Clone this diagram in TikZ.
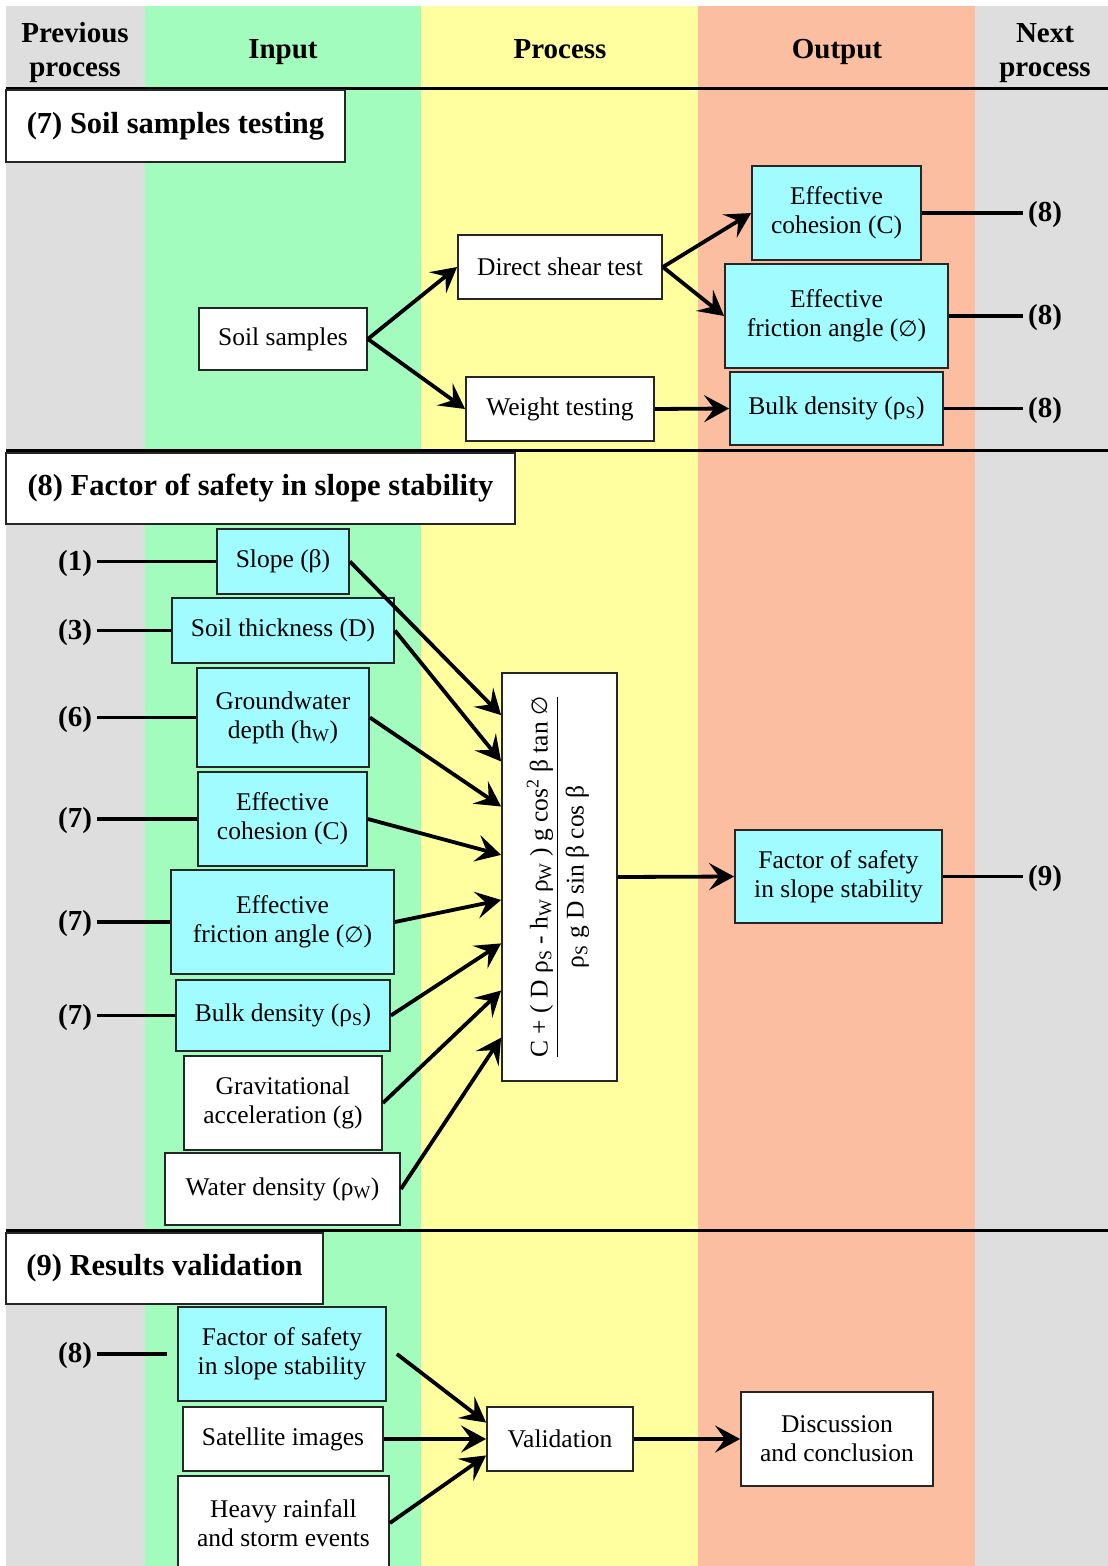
\documentclass[tikz,border=0pt]{standalone}
\usepackage{fontspec}
\setmainfont{Liberation Serif}
\newfontfamily\djv{DejaVu Sans}
\usetikzlibrary{arrows.meta,calc}
\definecolor{cgray}{RGB}{222,222,222}
\definecolor{cgreen}{RGB}{162,252,190}
\definecolor{cyellow}{RGB}{255,255,160}
\definecolor{corange}{RGB}{252,190,160}
\definecolor{ccyan}{RGB}{160,252,255}
\newcommand{\bodyf}{\fontsize{25.5}{29}\selectfont}
\newcommand{\headf}{\fontsize{29}{34}\selectfont\bfseries}
\newcommand{\titlef}{\fontsize{30.5}{34}\selectfont\bfseries}
\newcommand{\rS}{ρ\textsubscript{S}}
\newcommand{\rW}{ρ\textsubscript{W}}
\newcommand{\hW}{h\textsubscript{W}}
\newcommand{\phiz}{{\djv\mdseries\fontsize{22}{29}\selectfont ∅}}
\newcommand{\ttl}[1]{\raisebox{-4pt}{#1}}
\tikzset{
  box/.style={draw=black!85, line width=1.8pt, fill=white, align=center, inner sep=0pt, font=\bodyf},
  cbox/.style={box, fill=ccyan},
  titlebox/.style={draw=black!85, line width=1.8pt, fill=white, inner sep=0pt, font=\titlef},
  head/.style={font=\headf, align=center, inner sep=0pt},
  lbl/.style={font=\headf, inner sep=5pt, yshift=-2pt},
  arr/.style={line width=3.8pt, -{Stealth[length=25pt,width=27pt,inset=10pt]}},
  ln/.style={line width=3.8pt},
  sep/.style={line width=3pt}
}
\begin{document}
\begin{tikzpicture}[x=1pt,y=-1pt]
\useasboundingbox (0,0) rectangle (1108,1566);
\clip (0,0) rectangle (1108,1566);
% backgrounds
\fill[white] (0,0) rectangle (1108,1566);
\fill[cgray] (6,6) rectangle (145,1566);
\fill[cgreen] (145,6) rectangle (421,1566);
\fill[cyellow] (421,6) rectangle (698,1566);
\fill[corange] (698,6) rectangle (975,1566);
\fill[cgray] (975,6) rectangle (1108,1566);
% headers
\node[head] (hprev) at (75,53) {Previous\\process};
\node[head, anchor=base] (hin) at (283,58) {Input};
\node[head, anchor=base] (hproc) at (560,58) {Process};
\node[head, anchor=base] (hout) at (837,58) {Output};
\node[head] (hnext) at (1045,53) {Next\\process};
\draw[sep] (6,88) -- (1108,88);
\draw[sep] (6,450) -- (1108,450);
\draw[sep] (6,1230) -- (1108,1230);

% ---------- Section 7 ----------
\node[titlebox, minimum width=339pt, minimum height=72pt] (t7) at (175.5,126) {\ttl{(7) Soil samples testing}};
\node[box, minimum width=168pt, minimum height=62pt] (ss) at (283,339) {Soil samples};
\node[box, minimum width=204pt, minimum height=64pt] (dst) at (560,267) {Direct shear test};
\node[box, minimum width=188pt, minimum height=64pt] (wt) at (560,409) {Weight testing};
\node[cbox, minimum width=169pt, minimum height=94pt] (ec7) at (836.5,213) {Effective\\cohesion (C)};
\node[cbox, minimum width=223pt, minimum height=104pt] (ef7) at (836.5,316) {Effective\\friction angle (\phiz)};
\node[cbox, minimum width=213pt, minimum height=73pt] (bd7) at (836.5,408.5) {Bulk density (\rS)};
\node[lbl] (o1) at (1045,213) {(8)};
\node[lbl] (o2) at (1045,316) {(8)};
\node[lbl] (o3) at (1045,408.5) {(8)};
\draw[arr] (ss.east) -- (dst.west);
\draw[arr] (ss.east) -- (wt.west);
\draw[arr] (dst.east) -- (ec7.west);
\draw[arr] (dst.east) -- (ef7.west);
\draw[arr] (wt.east) -- (bd7.west);
\draw[ln] (ec7.east) -- (ec7.east -| o1.west);
\draw[ln] (ef7.east) -- (ef7.east -| o2.west);
\draw[ln] (bd7.east) -- (bd7.east -| o3.west);

% ---------- Section 8 ----------
\node[titlebox, minimum width=509pt, minimum height=71pt] (t8) at (260.5,488.5) {\ttl{(8) Factor of safety in slope stability}};
\node[cbox, minimum width=132pt, minimum height=65pt] (slope) at (283,561.5) {Slope (β)};
\node[cbox, minimum width=222pt, minimum height=65pt] (thick) at (283,630.5) {Soil thickness (D)};
\node[cbox, minimum width=172pt, minimum height=99pt] (gw) at (283,717.5) {Groundwater\\depth (\hW)};
\node[cbox, minimum width=169pt, minimum height=94pt] (ec8) at (282.5,819) {Effective\\cohesion (C)};
\node[cbox, minimum width=223pt, minimum height=104pt] (ef8) at (282.5,922) {Effective\\friction angle (\phiz)};
\node[cbox, minimum width=214pt, minimum height=71pt] (bd8) at (283,1015.5) {Bulk density (\rS)};
\node[box, minimum width=198pt, minimum height=94pt] (gr) at (283,1103) {Gravitational\\acceleration (g)};
\node[box, minimum width=235pt, minimum height=72pt] (wd) at (282.5,1189) {Water density (\rW)};
\node[box, minimum width=115pt, minimum height=408pt] (F) at (559.5,877)
  {\rotatebox{90}{\begin{tabular}{@{}c@{}}C + ( D \rS\ - \hW\ \rW\ ) g cos\textsuperscript{2} β tan \phiz\\[1pt]\hline\rule{0pt}{26pt}\rS\ g D sin β cos β\end{tabular}}};
\node[cbox, minimum width=207pt, minimum height=93pt] (fos8) at (838.5,876.5) {Factor of safety\\in slope stability};
\node[lbl] (i1) at (75,561.5) {(1)};
\node[lbl] (i3) at (75,630.5) {(3)};
\node[lbl] (i6) at (75,717.5) {(6)};
\node[lbl] (i7a) at (75,819) {(7)};
\node[lbl] (i7b) at (75,922) {(7)};
\node[lbl] (i7c) at (75,1015.5) {(7)};
\node[lbl] (o9) at (1045,876.5) {(9)};
\draw[ln] (slope.west -| i1.east) -- (slope.west);
\draw[ln] (thick.west -| i3.east) -- (thick.west);
\draw[ln] (gw.west -| i6.east) -- (gw.west);
\draw[ln] (ec8.west -| i7a.east) -- (ec8.west);
\draw[ln] (ef8.west -| i7b.east) -- (ef8.west);
\draw[ln] (bd8.west -| i7c.east) -- (bd8.west);
\draw[ln] (fos8.east) -- (fos8.east -| o9.west);
\foreach \n/\f in {slope/0.105, thick/0.218, gw/0.328, ec8/0.446, ef8/0.556, bd8/0.662, gr/0.777, wd/0.892}
  \draw[arr] (\n.east) -- ($(F.north west)!\f!(F.south west)$);
\draw[arr] (F.east) -- (fos8.west);

% ---------- Section 9 ----------
\node[titlebox, minimum width=317pt, minimum height=71pt] (t9) at (164.5,1268.5) {\ttl{(9) Results validation}};
\node[cbox, minimum width=208pt, minimum height=94pt] (fos9) at (282,1354) {Factor of safety\\in slope stability};
\node[box, minimum width=200pt, minimum height=64pt] (sat) at (283,1439) {Satellite images};
\node[box, minimum width=211pt, minimum height=94pt] (hr) at (283.5,1523) {Heavy rainfall\\and storm events};
\node[box, minimum width=146pt, minimum height=64pt] (val) at (560,1439) {Validation};
\node[box, minimum width=192pt, minimum height=94pt] (dc) at (837,1439) {Discussion\\and conclusion};
\node[lbl] (i8) at (75,1354) {(8)};
\draw[ln] (fos9.west -| i8.east) -- ([xshift=-10pt]fos9.west);
\draw[arr] ([xshift=10pt]fos9.east) -- ($(val.north west)!0.25!(val.south west)$);
\draw[arr] (sat.east) -- (val.west);
\draw[arr] (hr.east) -- ($(val.north west)!0.75!(val.south west)$);
\draw[arr] (val.east) -- (dc.west);
\end{tikzpicture}
\end{document}
